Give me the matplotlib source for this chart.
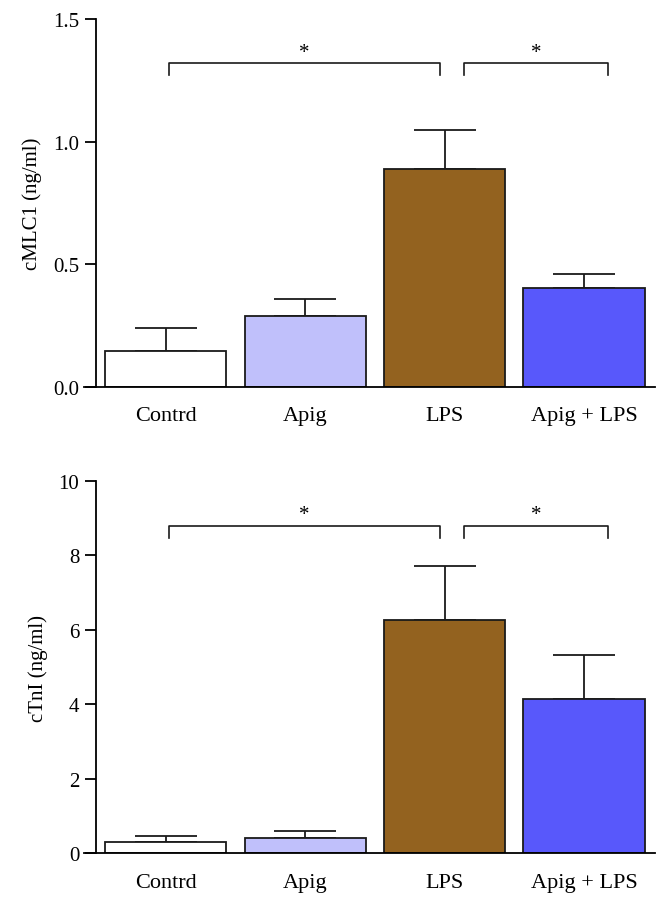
import matplotlib.pyplot as plt

groups = ["Contrd", "Apig", "LPS", "Apig + LPS"]
colors = ["#ffffff", "#c0c0fb", "#93621f", "#5858fb"]

mlc_mean = [0.145, 0.288, 0.887, 0.404]
mlc_err = [0.094, 0.071, 0.161, 0.056]

tni_mean = [0.29, 0.40, 6.26, 4.15]
tni_err = [0.18, 0.21, 1.46, 1.18]

plt.rcParams['font.family'] = ['Liberation Serif', 'DejaVu Serif']

fig = plt.figure(figsize=(6.63, 9.04), dpi=100)


def panel(ax, mean, err, ylim, ticks, ticklabels, ylabel, br_y, br_drop, star_y):
    x = range(len(groups))
    ax.bar(x, mean, width=0.87, color=colors, edgecolor="#1a1a1a", linewidth=1.3, zorder=2)
    ax.errorbar(x, mean, yerr=[[0] * len(err), err], fmt="none", ecolor="#1a1a1a",
                elinewidth=1.3, capsize=22, capthick=1.3, zorder=1)
    ax.set_xlim(-0.585, 3.51)
    ax.set_ylim(*ylim)
    ax.set_yticks(ticks)
    ax.set_yticklabels(ticklabels)
    ax.set_xticks(list(x))
    ax.set_xticklabels(groups)
    ax.tick_params(axis="x", length=0, pad=14, labelsize=16)
    ax.tick_params(axis="y", length=8, width=1.3, direction="out", pad=4, labelsize=15)
    ax.spines["top"].set_visible(False)
    ax.spines["right"].set_visible(False)
    ax.spines["left"].set_position(("data", -0.5))
    ax.spines["left"].set_linewidth(1.3)
    ax.spines["bottom"].set_linewidth(1.3)
    ax.set_ylabel(ylabel, fontsize=15, labelpad=8)
    # significance brackets
    for x0, x1 in [(0.02, 1.97), (2.14, 3.17)]:
        ax.plot([x0, x0, x1, x1], [br_y - br_drop, br_y, br_y, br_y - br_drop],
                color="#1a1a1a", linewidth=1.2, clip_on=False)
        ax.text((x0 + x1) / 2, star_y, "*", ha="center", va="center", fontsize=15)


ax1 = fig.add_axes([0.127, 0.571, 0.861, 0.407])
panel(ax1, mlc_mean, mlc_err, (0, 1.5), [0, 0.5, 1.0, 1.5],
      ["0.0", "0.5", "1.0", "1.5"], "cMLC1 (ng/ml)", 1.32, 0.05, 1.365)

ax2 = fig.add_axes([0.127, 0.055, 0.861, 0.412])
panel(ax2, tni_mean, tni_err, (0, 10), [0, 2, 4, 6, 8, 10],
      ["0", "2", "4", "6", "8", "10"], "cTnI (ng/ml)", 8.80, 0.34, 9.1)

fig.savefig("out.png", dpi=100)
